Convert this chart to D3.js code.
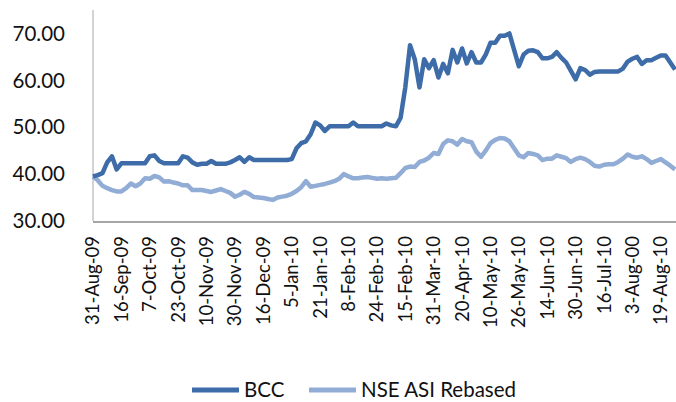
<!DOCTYPE html>
<html>
<head>
<meta charset="utf-8">
<script src="https://cdn.jsdelivr.net/npm/d3@7"></script>
<style>
  body { margin: 0; background: #fff; }
  svg text { font-family: Lato, "Open Sans", sans-serif; fill: #111; }
</style>
</head>
<body>
<div id="chart"></div>
<script>
// BCC share price vs NSE All Share Index (rebased), Aug-09 .. Aug-10
const bcc = [
  39.5, 39.8, 40.2, 42.5, 43.8, 41, 42.3, 42.3, 42.3, 42.3, 42.3, 42.3, 43.8, 44, 42.8, 42.3, 42.3, 42.3, 42.3, 43.8,
  43.5, 42.5, 42, 42.2, 42.2, 42.8, 42.2, 42.2, 42.2, 42.5, 43, 43.6, 42.6, 43.6, 43,
  43, 43, 43, 43, 43, 43, 43,
  43.2, 45.5, 46.6, 47, 48.5, 51, 50.4, 49.2, 50.2,
  50.2, 50.2, 50.2, 50.2, 51,
  50.2, 50.2, 50.2, 50.2, 50.2, 50.2,
  50.8, 50.4, 50.2, 52, 58.5, 67.5, 64.5, 58.5, 64.5, 62.6, 64.3, 60.6, 63.5, 61.5, 66.5, 63.8, 66.8, 63.6, 66, 63.8,
  63.8, 65.5, 68, 68, 69.5, 69.5, 70, 66.5, 63, 65.5, 66.3, 66.4, 66, 64.7, 64.7, 65, 66, 64.8, 63.8, 62,
  60.2, 62.6, 62.2, 61.2, 61.8,
  61.9, 61.9, 61.9, 61.9, 61.9,
  62.5, 64, 64.6, 65, 63.5, 64.3, 64.3, 64.8, 65.3, 65.3, 63.8, 62.3
];
const nse = [
  39.5, 38.7, 37.5, 37, 36.6, 36.3, 36.3, 37, 38, 37.4, 38, 39.1, 39, 39.6, 39.3, 38.4, 38.5, 38.2, 38, 37.6,
  37.6, 36.6, 36.6, 36.6, 36.4, 36.2, 36.5, 36.8, 36.4, 36, 35.2, 35.6, 36.2, 35.8, 35.1,
  35, 34.9, 34.7, 34.5, 35, 35.2, 35.4, 35.8, 36.4, 37.2, 38.5, 37.3, 37.5, 37.7, 37.9, 38.2,
  38.5, 39, 40, 39.5, 39.1, 39.1, 39.3, 39.4, 39.2, 39, 39.1, 39, 39.1, 39.2, 40.2, 41.3, 41.6, 41.5, 42.6,
  42.9, 43.5, 44.5, 44.3, 46.4, 47.2, 47, 46.3, 47.5, 47, 46.8, 44.8, 43.7, 45, 46.6, 47.3, 47.7, 47.6, 47,
  45.5, 44, 43.6, 44.5, 44.3, 44, 43, 43.3, 43.3, 44, 43.7, 43.4, 42.6, 43.2, 43.5, 43.2, 42.6, 41.8, 41.6,
  42, 42.1, 42.1, 42.6, 43.3, 44.2, 43.7, 43.5, 43.8, 43.2, 42.4, 42.8, 43.2, 42.5, 41.8, 41
];
const tickLabels = [
  "31-Aug-09", "16-Sep-09", "7-Oct-09", "23-Oct-09", "10-Nov-09", "30-Nov-09", "16-Dec-09",
  "5-Jan-10", "21-Jan-10", "8-Feb-10", "24-Feb-10", "15-Feb-10", "31-Mar-10", "20-Apr-10",
  "10-May-10", "26-May-10", "14-Jun-10", "30-Jun-10", "16-Jul-10", "3-Aug-00", "19-Aug-10"
];
const labelEvery = 6;
const yTicks = [30, 40, 50, 60, 70];
const seriesNames = ["BCC", "NSE ASI Rebased"];
const colors = ["#3d6ca8", "#91acd5"];

const width = 676, height = 402;
const margin = { left: 93, right: 675, top: 10, bottom: 221 };

const svg = d3.select('#chart').append('svg')
    .attr('width', width)
    .attr('height', height);

const x = d3.scaleLinear()
    .domain([0, bcc.length - 1])
    .range([margin.left, margin.right]);

const y = d3.scaleLinear()
    .domain([30, 75])
    .range([margin.bottom, margin.top]);

// axes
svg.append('line')
    .attr('x1', margin.left).attr('x2', margin.left)
    .attr('y1', margin.top).attr('y2', margin.bottom)
    .attr('stroke', '#a6a6a6').attr('stroke-width', 1);
svg.append('line')
    .attr('x1', margin.left).attr('x2', width)
    .attr('y1', margin.bottom + 1).attr('y2', margin.bottom + 1)
    .attr('stroke', '#a6a6a6').attr('stroke-width', 2);

svg.append('g')
    .selectAll('text')
    .data(yTicks)
    .enter()
    .append('text')
    .attr('x', 65)
    .attr('y', d => y(d))
    .attr('dy', '0.35em')
    .attr('text-anchor', 'end')
    .style('font-size', '20.5px')
    .text(d => d.toFixed(2));

svg.append('g')
    .selectAll('text')
    .data(tickLabels)
    .enter()
    .append('text')
    .attr('transform', (d, i) => 'translate(' + x(i * labelEvery) + ',236) rotate(-90)')
    .attr('dy', '0.35em')
    .attr('text-anchor', 'end')
    .style('font-size', '18.5px')
    .text(d => d);

// lines, NSE drawn first so BCC sits on top
const line = d3.line()
    .x((d, i) => x(i))
    .y(d => y(d));

[nse, bcc].forEach((s, k) => {
    svg.append('path')
        .attr('d', line(s))
        .attr('fill', 'none')
        .attr('stroke', colors[1 - k])
        .attr('stroke-width', 4.5)
        .attr('stroke-linejoin', 'round');
});

// legend
const legend = svg.append('g').attr('class', 'legend');
const legendX = [192, 309];
seriesNames.forEach((name, i) => {
    legend.append('line')
        .attr('x1', legendX[i]).attr('x2', legendX[i] + 47)
        .attr('y1', 390).attr('y2', 390)
        .attr('stroke', colors[i])
        .attr('stroke-width', 5);
    legend.append('text')
        .attr('x', legendX[i] + 52)
        .attr('y', 390)
        .attr('dy', '0.35em')
        .style('font-size', '20.5px')
        .text(name);
});
</script>
</body>
</html>
